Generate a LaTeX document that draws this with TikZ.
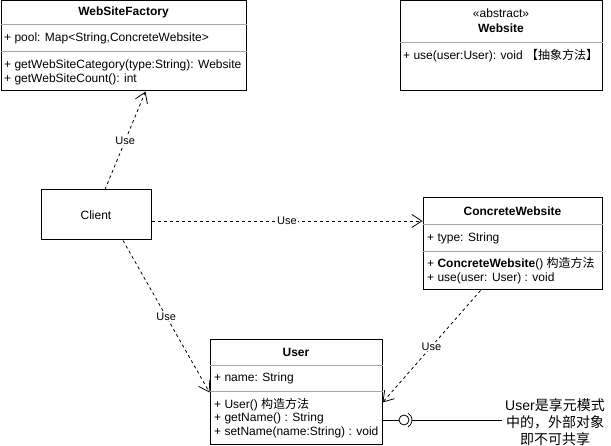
\documentclass[tikz,border=0pt]{standalone}
\usepackage{fontspec}
\setmainfont{Liberation Sans}
\newfontfamily\cjk{Noto Sans CJK SC}
\newcommand{\zhtext}[1]{{\cjk #1}}
\usetikzlibrary{arrows.meta, positioning, calc}

\begin{document}
\begin{tikzpicture}[
    x=1pt, y=-1pt,
    classbox/.style={draw, line width=1pt, inner sep=0pt},
    classname/.style={inner sep=0pt, font=\fontsize{12}{14}\selectfont\bfseries},
    member/.style={anchor=west, inner sep=0pt, font=\fontsize{12}{14}\selectfont},
    divider/.style={draw=black!35, line width=0.8pt},
    uses/.style={draw, dash pattern=on 3pt off 3pt, line width=0.8pt,
                 -{Straight Barb[length=10pt,width=13pt]}},
    uselabel/.style={fill=white, inner sep=1pt, font=\fontsize{11}{13}\selectfont},
]
    \useasboundingbox (0,0) rectangle (611,446);

    % WebSiteFactory
    \node[classbox, minimum width=245pt, minimum height=90pt] (factory) at (123.5,46) {};
    \node[classname] (factoryname) at (123.5,12) {WebSiteFactory};
    \draw[divider] (factory.west |- 0,24) -- (factory.east |- 0,24);
    \node[member] (factorypool) at (4,38) {+ pool: Map<String,ConcreteWebsite>};
    \draw[divider] (factory.west |- 0,51) -- (factory.east |- 0,51);
    \node[member] (factorycat) at (4,65) {+ getWebSiteCategory(type:String): Website};
    \node[member] (factorycount) at (4,79) {+ getWebSiteCount(): int};

    % Website (abstract)
    \node[classbox, minimum width=202pt, minimum height=90pt] (website) at (501,46) {};
    \node[member, anchor=center] (websitestereo) at (501,13) {«abstract»};
    \node[classname] (websitename) at (501,28) {Website};
    \draw[divider] (website.west |- 0,42) -- (website.east |- 0,42);
    \node[member] (websiteuse) at (403,56) {+ use(user:User): void \zhtext{【抽象方法】}};

    % Client
    \node[classbox, minimum width=110pt, minimum height=50pt,
          font=\fontsize{12}{14}\selectfont] (client) at (96,215) {Client};

    % ConcreteWebsite
    \node[classbox, minimum width=179pt, minimum height=92pt] (concrete) at (512.5,244) {};
    \node[member, anchor=center, font=\fontsize{12}{14}\selectfont\bfseries] (concretename) at (512.5,211) {ConcreteWebsite};
    \draw[divider] (concrete.west |- 0,224) -- (concrete.east |- 0,224);
    \node[member] (concretetype) at (427,238) {+ type: String};
    \draw[divider] (concrete.west |- 0,251) -- (concrete.east |- 0,251);
    \node[member] (concretector) at (427,264) {+ \textbf{ConcreteWebsite}() \zhtext{构造方法}};
    \node[member] (concreteuse) at (427,278) {+ use(user: User) : void};

    % User
    \node[classbox, minimum width=172pt, minimum height=105pt] (user) at (296,392.5) {};
    \node[classname] (username) at (296,352) {User};
    \draw[divider] (user.west |- 0,365) -- (user.east |- 0,365);
    \node[member] (username2) at (214,378) {+ name: String};
    \draw[divider] (user.west |- 0,391) -- (user.east |- 0,391);
    \node[member] (userctor) at (214,405) {+ User()\ \zhtext{构造方法}};
    \node[member] (userget) at (214,418) {+ getName() : String};
    \node[member] (userset) at (214,432) {+ setName(name:String) : void};

    % note
    \node[align=center, inner sep=3pt, font=\fontsize{14}{17}\selectfont] (note) at (555,422)
        {User\zhtext{是享元模式}\\\zhtext{中的，外部对象}\\\zhtext{即不可共享}};

    % dependencies
    \draw[uses] ([xshift=9pt]client.north) -- ([xshift=22pt]factory.south)
        node[uselabel, pos=0.5] (use1) {Use};
    \draw[uses] ([yshift=-6pt]client.east) -- ([yshift=-6pt]client.east -| concrete.west)
        node[uselabel, pos=0.5] (use2) {Use};
    \draw[uses] ([xshift=27pt]client.south) -- (user.west)
        node[uselabel, pos=0.5] (use3) {Use};
    \draw[uses] ([xshift=-32pt]concrete.south) -- ([yshift=-10pt]user.east)
        node[uselabel, pos=0.5] (use4) {Use};

    % lollipop
    \coordinate (ball) at (404,420);
    \draw[line width=0.8pt] (ball -| user.east) -- ([xshift=-5pt]ball);
    \draw[line width=0.8pt] (ball) circle (5pt);
    \draw[line width=0.8pt] ([shift={(-60:8pt)}]ball) arc[start angle=-60, end angle=60, radius=8pt];
    \draw[line width=0.8pt] ([xshift=8pt]ball) -- (ball -| note.west);
\end{tikzpicture}
\end{document}
